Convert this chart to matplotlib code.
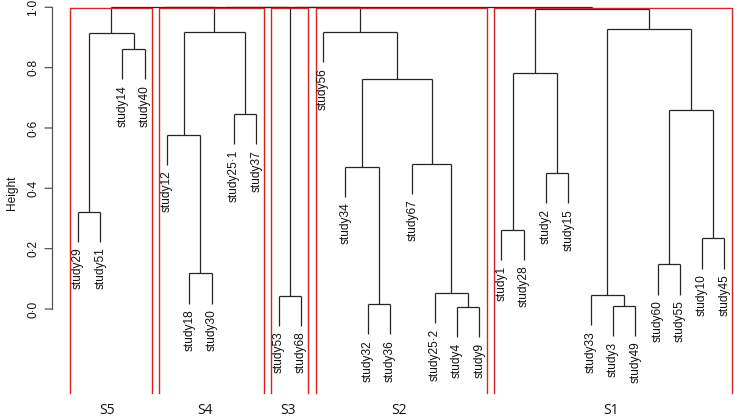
import matplotlib
matplotlib.use("Agg")
import matplotlib.pyplot as plt

plt.rcParams['font.family'] = ['Liberation Sans', 'DejaVu Sans']

# leaf labels in dendrogram order
leaf_labels = ["study29", "study51", "study14", "study40", "study12", "study18", "study30",
               "study25·1", "study37", "study53", "study68", "study56", "study34", "study32",
               "study36", "study67", "study25·2", "study4", "study9", "study1", "study28",
               "study2", "study15", "study33", "study3", "study49", "study60", "study55",
               "study10", "study45"]

# merge matrix (R hclust style): negative = leaf position, positive = earlier merge
merge_left = [-1, -3, 1, -6, -5, -8, 5, -10, -14, -13, -18, -17, -16, 10, -12,
              -20, -22, 16, -25, -24, -27, -29, 21, 20, 18, 3, 26, 27, 28]
merge_right = [-2, -4, 2, -7, 4, -9, 6, -11, -15, 9, -19, 11, 12, 13, 14,
               -21, -23, 17, -26, 19, -28, -30, 22, 23, 24, 7, 8, 15, 25]
merge_height = [0.3225, 0.861, 0.914, 0.118, 0.577, 0.646, 0.919, 0.044, 0.0156, 0.472,
                0.0056, 0.052, 0.481, 0.761, 0.918, 0.262, 0.450, 0.781, 0.010, 0.046,
                0.148, 0.234, 0.660, 0.927, 0.995, 1.0, 1.0, 1.0, 1.0]

# clusters (k = 5)
cluster_names = ["S5", "S4", "S3", "S2", "S1"]
cluster_first = [1, 5, 10, 12, 20]
cluster_last = [4, 9, 11, 19, 30]
cluster_label_pos = [2.30, 6.71, 10.44, 15.42, 24.90]

y_ticks = [0.0, 0.2, 0.4, 0.6, 0.8, 1.0]
y_tick_labels = ["0·0", "0·2", "0·4", "0·6", "0·8", "1·0"]

hang = 0.1
W, H = 734, 420
fig = plt.figure(figsize=(W / 100, H / 100), dpi=100)
ax = fig.add_axes([52 / W, 1 - 393 / H, 1 - 52 / W, (393 - 7.3) / H])
ax.set_xlim(-0.16, 30.43)
ax.set_ylim(-0.2784, 1.0)
ax.axis('off')

line_col = '#262626'
lw = 0.9

node_x = {}
node_h = {}
for i, (l, r, h) in enumerate(zip(merge_left, merge_right, merge_height), start=1):
    xs = []
    for c in (l, r):
        if c < 0:
            cx = -c
            bottom = h - hang
            ax.plot([cx, cx], [bottom, h], color=line_col, lw=lw, clip_on=False,
                    solid_capstyle='butt')
            ax.annotate(leaf_labels[cx - 1], (cx, bottom), xytext=(0, -4),
                        textcoords='offset points', rotation=90, ha='center', va='top',
                        fontsize=8.6, color='#111111')
        else:
            cx = node_x[c]
            ax.plot([cx, cx], [node_h[c], h], color=line_col, lw=lw, clip_on=False,
                    solid_capstyle='butt')
        xs.append(cx)
    ax.plot([xs[0], xs[1]], [h, h], color=line_col, lw=lw, clip_on=False,
            solid_capstyle='butt')
    node_x[i] = (xs[0] + xs[1]) / 2
    node_h[i] = h

# rect.hclust rectangles
hs = sorted(merge_height, reverse=True)
k = len(cluster_names)
rect_top = (hs[k - 2] + hs[k - 1]) / 2
ybot = ax.get_ylim()[0]
for name, a, b, lx in zip(cluster_names, cluster_first, cluster_last, cluster_label_pos):
    x0, x1 = a - 0.34, b + 0.33
    ax.plot([x0, x0, x1, x1], [ybot, rect_top, rect_top, ybot], color='#d92424',
            lw=1.0, clip_on=False)
    ax.text(lx, (309 - 410.5) / 301.7, name, ha='center', va='center',
            fontsize=10, family=['Open Sans', 'DejaVu Sans'],
            color='#111111', clip_on=False)

# y axis
ax_x = -0.16
ax.plot([ax_x, ax_x], [0, 1], color='#555555', lw=0.9, clip_on=False)
for t, lab in zip(y_ticks, y_tick_labels):
    ax.annotate('', (ax_x, t), xytext=(-5, 0), textcoords='offset points',
                arrowprops=dict(arrowstyle='-', color='#555555', lw=0.9,
                                shrinkA=0, shrinkB=0))
    ax.annotate(lab, (ax_x, t), xytext=(-13.5, 0), textcoords='offset points',
                rotation=90, ha='center', va='center', fontsize=8.6, color='#111111')

fig.text(12 / W, 1 - 193 / H, "Height", rotation=90, ha='center', va='center',
         fontsize=8.6, color='#111111')

fig.savefig("out.png", dpi=100)
